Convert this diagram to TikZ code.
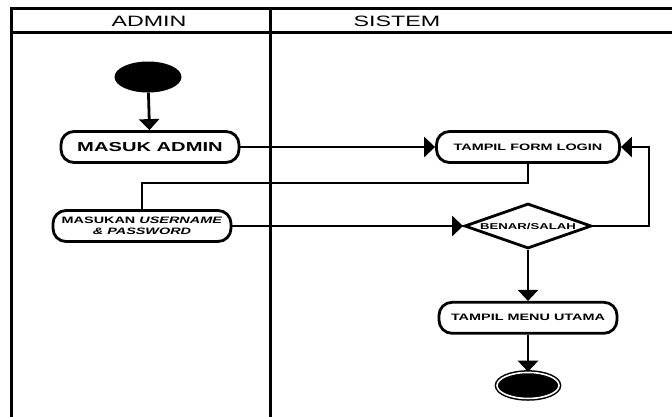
\documentclass[tikz,border=0pt]{standalone}
\usepackage{fontspec}
\newfontfamily\lanefont[FakeStretch=1.55]{Liberation Sans}
\usetikzlibrary{shapes.geometric, arrows.meta, positioning}

\begin{document}
\begin{tikzpicture}[x=1pt, y=-1pt,
    lane/.style={line width=3pt},
    header/.style={font=\lanefont\fontsize{15}{18}\selectfont},
    activity/.style={rectangle, draw=black, fill=white, line width=2.8pt, rounded corners=13pt, minimum width=178pt, minimum height=31pt, inner sep=2pt, align=center, font=\lanefont\bfseries\fontsize{9.3}{10.5}\selectfont},
    decision/.style={diamond, draw=black, fill=white, line width=2.8pt, aspect=2.8, inner sep=0pt, minimum width=127pt, minimum height=45pt, font=\lanefont\bfseries\fontsize{8.5}{10}\selectfont},
    startnode/.style={ellipse, fill=black, minimum width=67pt, minimum height=31pt, inner sep=0pt},
    endnode/.style={ellipse, draw=black, fill=black, line width=1.5pt, double=white, double distance=1.6pt, minimum width=62pt, minimum height=26pt, inner sep=0pt},
    flow/.style={-{Triangle[length=11pt, width=20pt]}, line width=2.8pt},
    link/.style={line width=2.8pt}
]
\useasboundingbox (0,0) rectangle (672,416);
\clip (0,0) rectangle (672,416);

% swimlanes
\draw[lane] (11,424) -- (11,8) -- (680,8);
\draw[lane] (11,32) -- (680,32);
\draw[lane] (270,8) -- (270,424);
\node[header] (admin) at (149,21) {ADMIN};
\node[header] (sistem) at (397,21) {SISTEM};

% admin lane
\node[startnode] (start) at (148,77) {};
\node[activity, font=\lanefont\bfseries\fontsize{13}{15}\selectfont] (masuk) at (150,147) {MASUK ADMIN};
\node[activity] (masukan) at (142,226) {MASUKAN \textit{USERNAME}\\\textit{\& PASSWORD}};

% sistem lane
\node[activity, minimum width=183pt] (form) at (528,147) {TAMPIL FORM LOGIN};
\node[decision] (cek) at (528,226) {BENAR/SALAH};
\node[activity, below=51pt of cek] (menu) {TAMPIL MENU UTAMA};
\node[endnode, below=37pt of menu] (selesai) {};

% connectors
\draw[flow] (start) -- (masuk);
\draw[flow] (masuk) -- (form);
\draw[link] (form.south) -- ++(0,19) -| (masukan.north);
\draw[flow] (masukan) -- (cek);
\draw[flow] (cek.east) -- ++(56,0) |- (form.east);
\draw[flow] (cek) -- (menu);
\draw[flow] (menu) -- (selesai);

\end{tikzpicture}
\end{document}
